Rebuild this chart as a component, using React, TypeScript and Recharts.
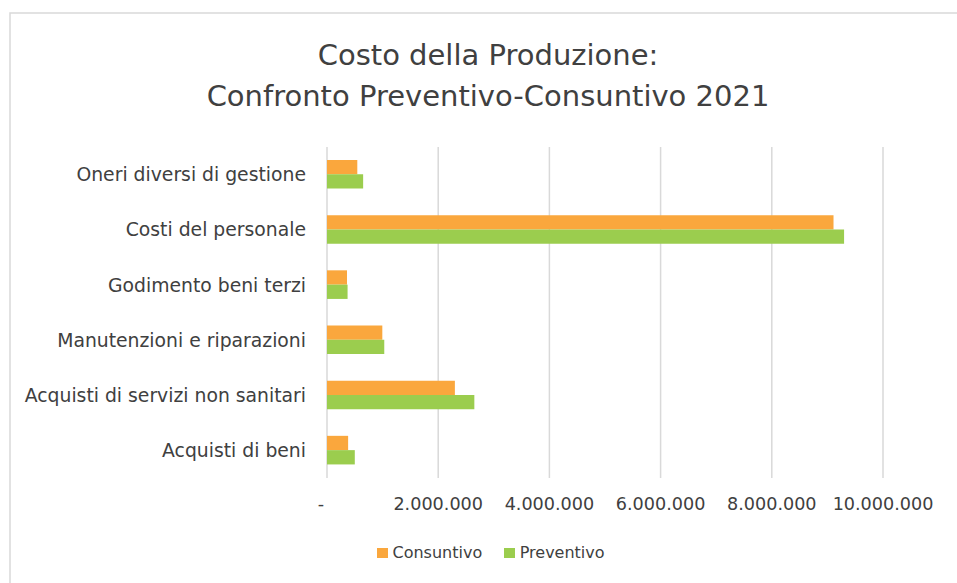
import { BarChart, Bar, XAxis, YAxis, CartesianGrid } from "recharts"

const categories = [
  "Oneri diversi di gestione",
  "Costi del personale",
  "Godimento beni terzi",
  "Manutenzioni e riparazioni",
  "Acquisti di servizi non sanitari",
  "Acquisti di beni",
]
const consuntivo = [545000, 9110000, 360000, 995000, 2300000, 380000]
const preventivo = [650000, 9300000, 370000, 1030000, 2650000, 500000]
const xTicks = [0, 2000000, 4000000, 6000000, 8000000, 10000000]
const titleLines = ["Costo della Produzione:", "Confronto Preventivo-Consuntivo 2021"]
const seriesKeys = ["consuntivo", "preventivo"]
const seriesNames = ["Consuntivo", "Preventivo"]
const seriesColors = ["#FAA73D", "#9BCD4E"]

const data = categories.map((name, i) => ({
  name,
  consuntivo: consuntivo[i],
  preventivo: preventivo[i],
}))

const FONT = "'DejaVu Sans', sans-serif"
const TEXT = "#404040"

const formatTick = (n: number) =>
  n === 0 ? "-" : String(n).replace(/\B(?=(\d{3})+(?!\d))/g, ".")

const XTick = (props: any) => {
  const { x, y, payload } = props
  const v = payload.value
  return (
    <text
      x={v === 0 ? x - 6 : x}
      y={y}
      dy="0.71em"
      textAnchor="middle"
      fill={TEXT}
      fontSize={17.6}
      fontFamily={FONT}
    >
      {formatTick(v)}
    </text>
  )
}

export default function App() {
  return (
    <div style={{ position: "absolute", left: 0, top: 0, width: 957, height: 583, background: "#fff", overflow: "hidden" }}>
      <svg width={957} height={583} style={{ position: "absolute", left: 0, top: 0 }}>
        <rect x={10} y={13} width={970} height={600} fill="none" stroke="#d9d9d9" strokeWidth={1.5} />
        {titleLines.map((t, i) => (
          <text key={i} x={488} y={65 + i * 41} textAnchor="middle" fill={TEXT} fontSize={29} fontFamily={FONT}>
            {t}
          </text>
        ))}
      </svg>
      <div style={{ position: "absolute", left: 0, top: 0 }}>
        <BarChart
          width={957}
          height={583}
          data={data}
          layout="vertical"
          margin={{ top: 147, right: 74, bottom: 75, left: 0 }}
          barGap={0}
          barSize={14.3}
        >
          <CartesianGrid horizontal={false} stroke="#d9d9d9" strokeWidth={1.5} />
          <XAxis
            type="number"
            domain={[0, 10000000]}
            ticks={xTicks}
            axisLine={false}
            tickLine={false}
            tickSize={0}
            tickMargin={20}
            height={30}
            tick={<XTick />}
            interval={0}
          />
          <YAxis
            type="category"
            dataKey="name"
            width={327}
            axisLine={false}
            tickLine={false}
            tickSize={0}
            tickMargin={21}
            interval={0}
            tick={{ fill: TEXT, fontSize: 18.8, fontFamily: FONT }}
          />
          {seriesKeys.map((k, i) => (
            <Bar key={k} dataKey={k} name={seriesNames[i]} fill={seriesColors[i]} isAnimationActive={false} />
          ))}
        </BarChart>
      </div>
      <div
        style={{
          position: "absolute",
          left: 377,
          top: 545,
          display: "flex",
          alignItems: "center",
          fontFamily: FONT,
          fontSize: 16,
          lineHeight: "16px",
          color: TEXT,
        }}
      >
        {seriesNames.map((n, i) => (
          <div key={n} style={{ display: "flex", alignItems: "center", marginRight: i === 0 ? 22 : 0 }}>
            <div style={{ width: 10.5, height: 10.5, background: seriesColors[i], marginRight: 5 }} />
            <span>{n}</span>
          </div>
        ))}
      </div>
    </div>
  )
}
